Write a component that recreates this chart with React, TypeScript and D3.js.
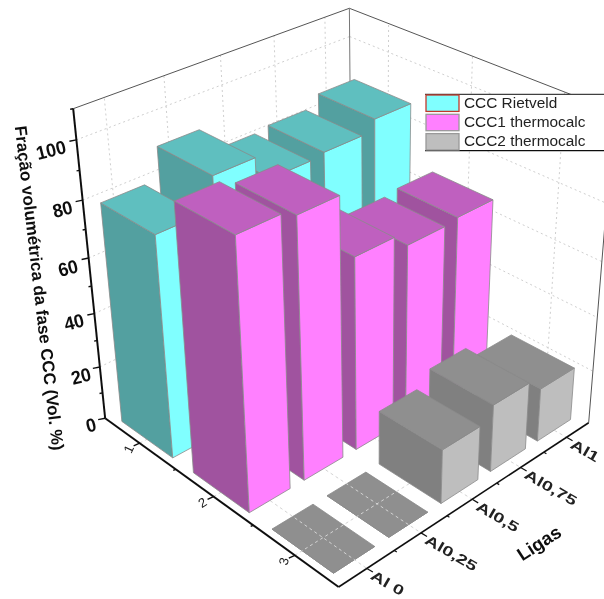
import React from "react";
import * as d3 from "d3";

const alloys = ["Al 0", "Al0,25", "Al0,5", "Al0,75", "Al1"];
const seriesNames = ["CCC Rietveld", "CCC1 thermocalc", "CCC2 thermocalc"];
const seriesTicks = ["1", "2", "3"];
const rietveld = [80, 91, 82, 83, 87];
const ccc1 = [95, 92.5, 70, 65, 66];
const ccc2 = [0, 0, 20, 25, 20];
const zTicks = [0, 20, 40, 60, 80, 100];
const seriesValues = [rietveld, ccc1, ccc2];

const frontColors = ["#80FFFF", "#FF80FF", "#BEBEBE"];
const sideColors = ["#52A0A0", "#A0529F", "#808080"];
const topColors = ["#5FBFBF", "#BF60BF", "#8F8F8F"];

// frame of the 3D box on the page: [u, v, w] -> [x, y]
const frame: [number[], number[]][] = [
  [[0, 0, 0], [105, 418]],
  [[1, 0, 0], [339, 587]],
  [[1, 1, 0], [588.5, 423]],
  [[0, 0, 1], [73, 109]],
  [[0, 1, 1], [349.7, 8.3]],
  [[1, 1, 1], [614, 111]],
];

function solve(A: number[][], b: number[]) {
  const n = b.length;
  const M = A.map((r, i) => [...r, b[i]]);
  for (let i = 0; i < n; i++) {
    let p = i;
    for (let k = i + 1; k < n; k++) if (Math.abs(M[k][i]) > Math.abs(M[p][i])) p = k;
    [M[i], M[p]] = [M[p], M[i]];
    for (let k = 0; k < n; k++) {
      if (k === i) continue;
      const f = M[k][i] / M[i][i];
      for (let j = i; j <= n; j++) M[k][j] -= f * M[i][j];
    }
  }
  return M.map((r, i) => r[n] / r[i]);
}

function fitCamera() {
  const rows: number[][] = [];
  const rhs: number[] = [];
  for (const [[a, b, c], [x, y]] of frame) {
    rows.push([a, b, c, 1, 0, 0, 0, 0, -x * a, -x * b, -x * c]);
    rhs.push(x);
    rows.push([0, 0, 0, 0, a, b, c, 1, -y * a, -y * b, -y * c]);
    rhs.push(y);
  }
  const n = 11;
  const AtA = d3.range(n).map((i) =>
    d3.range(n).map((j) => d3.sum(rows, (r) => r[i] * r[j]))
  );
  const Atb = d3.range(n).map((i) => d3.sum(rows, (r, k) => r[i] * rhs[k]));
  return solve(AtA, Atb);
}
const cam = fitCamera();
const project = (a: number, b: number, c: number): [number, number] => {
  const d = cam[8] * a + cam[9] * b + cam[10] * c + 1;
  return [
    (cam[0] * a + cam[1] * b + cam[2] * c + cam[3]) / d,
    (cam[4] * a + cam[5] * b + cam[6] * c + cam[7]) / d,
  ];
};

const uScale = d3.scaleLinear().domain([0.5, 3.5]).range([0, 1]);
const vScale = d3.scaleLinear().domain([0.5, 5.5]).range([0, 1]);
const zScale = d3.scaleLinear().domain([0, 110]).range([0, 1]);
const P = (s: number, a: number, z: number) => project(uScale(s), vScale(a), zScale(z));
const line = d3.line<[number, number]>();
const poly = (pts: [number, number][]) => line(pts) + "Z";

const halfU = 0.36;
const halfV = 0.37;

type Bar = { s: number; a: number; value: number };
const bars: Bar[] = [];
seriesValues.forEach((vals, si) =>
  vals.forEach((value, ai) => bars.push({ s: si, a: ai, value }))
);
const order = (b: Bar) => b.s * 10 - b.a;
const flat = bars.filter((b) => b.value === 0);
const tall = bars.filter((b) => b.value > 0).sort((p, q) => order(p) - order(q));

function BarFaces({ b }: { b: Bar }) {
  const u0 = b.s + 1 - halfU, u1 = b.s + 1 + halfU;
  const v0 = b.a + 1 - halfV, v1 = b.a + 1 + halfV;
  const h = b.value;
  const stroke = { stroke: "#8a8a8a", strokeWidth: 0.8, strokeLinejoin: "round" as const };
  return (
    <g>
      <path d={poly([P(u0, v0, 0), P(u1, v0, 0), P(u1, v0, h), P(u0, v0, h)])} fill={sideColors[b.s]} {...stroke} />
      <path d={poly([P(u1, v0, 0), P(u1, v1, 0), P(u1, v1, h), P(u1, v0, h)])} fill={frontColors[b.s]} {...stroke} />
      <path d={poly([P(u0, v0, h), P(u1, v0, h), P(u1, v1, h), P(u0, v1, h)])} fill={topColors[b.s]} {...stroke} />
    </g>
  );
}

const Seg = ({ a, b, ...rest }: any) => (
  <line x1={a[0]} y1={a[1]} x2={b[0]} y2={b[1]} {...rest} />
);

const gridStyle = { stroke: "#cfcfcf", strokeWidth: 1, strokeDasharray: "2 3" };
const floorGrid = { stroke: "#d4d4d4", strokeWidth: 1, strokeDasharray: "3 3" };
const sansBold = { fontFamily: "Liberation Sans, Arial, sans-serif", fontWeight: 700 };

const yLabelPos: [number, number][] = [[91, 425], [81, 376], [74, 322], [68, 268], [62.5, 209], [51, 150]];
const seriesRot = [-65, -32, -75];

export default function App() {
  const vals = [1, 2, 3, 4, 5];
  const su = [1, 2, 3];
  return (
    <svg width={604} height={599} style={{ position: "absolute", left: 0, top: 0, background: "#fff" }}>
      <defs>
        <filter id="soft" x="0" y="0" width="100%" height="100%" filterUnits="userSpaceOnUse">
          <feGaussianBlur stdDeviation="0.4" />
        </filter>
      </defs>
      <g filter="url(#soft)">
        <rect width={604} height={599} fill="#fff" />
        {/* walls grid */}
        {zTicks.slice(1).map((z) => (
          <g key={z}>
            <Seg a={P(0.5, 0.5, z)} b={P(0.5, 5.5, z)} {...gridStyle} />
            <Seg a={P(0.5, 5.5, z)} b={P(3.5, 5.5, z)} {...gridStyle} />
          </g>
        ))}
        {vals.map((a) => (
          <Seg key={a} a={P(0.5, a, 0)} b={P(0.5, a, 110)} {...gridStyle} />
        ))}
        {su.map((s) => (
          <Seg key={s} a={P(s, 5.5, 0)} b={P(s, 5.5, 110)} {...gridStyle} />
        ))}
        {/* flat bars + floor grid */}
        {flat.map((b) => <BarFaces key={`${b.s}-${b.a}`} b={b} />)}
        {vals.map((a) => (
          <Seg key={a} a={P(0.5, a, 0)} b={P(3.5, a, 0)} {...floorGrid} />
        ))}
        {su.map((s) => (
          <Seg key={s} a={P(s, 0.5, 0)} b={P(s, 5.5, 0)} {...floorGrid} />
        ))}
        {/* box */}
        <Seg a={P(0.5, 0.5, 110)} b={P(0.5, 5.5, 110)} stroke="#555" strokeWidth={1} />
        <Seg a={P(0.5, 5.5, 110)} b={P(3.5, 5.5, 110)} stroke="#555" strokeWidth={1} />
        <Seg a={P(0.5, 5.5, 0)} b={P(0.5, 5.5, 110)} stroke="#777" strokeWidth={1} />
        <Seg a={P(3.5, 5.5, 0)} b={P(3.5, 5.5, 110)} stroke="#555" strokeWidth={1} />
        {/* bars */}
        {tall.map((b) => <BarFaces key={`${b.s}-${b.a}`} b={b} />)}
        {/* axes */}
        <g stroke="#111" strokeWidth={2}>
          <Seg a={P(0.5, 0.5, 0)} b={P(0.5, 0.5, 110)} />
          <Seg a={P(0.5, 0.5, 0)} b={P(3.5, 0.5, 0)} />
          <Seg a={P(3.5, 0.5, 0)} b={P(3.5, 5.5, 0)} strokeWidth={1.6} />
          {d3.range(0, 111, 10).map((z) => {
            const p = P(0.5, 0.5, z);
            const len = z % 20 === 0 ? 7 : 3;
            return <line key={z} x1={p[0]} y1={p[1]} x2={p[0] - len} y2={p[1] + len * 0.2} strokeWidth={1.4} />;
          })}
          {d3.range(1, 3.01, 0.5).map((s) => {
            const p = P(s, 0.5, 0);
            const len = s % 1 === 0 ? 6 : 2.5;
            return <line key={s} x1={p[0]} y1={p[1]} x2={p[0] - len} y2={p[1] + len * 0.45} strokeWidth={1.4} />;
          })}
          {d3.range(1, 5.01, 0.5).map((a) => {
            const p = P(3.5, a, 0);
            const len = a % 1 === 0 ? 6 : 2.5;
            return <line key={a} x1={p[0]} y1={p[1]} x2={p[0] + len} y2={p[1] + len * 0.6} strokeWidth={1.2} />;
          })}
        </g>
        {/* labels */}
        {zTicks.map((z, i) => (
          <text key={z} transform={`translate(${yLabelPos[i][0]},${yLabelPos[i][1]}) rotate(-14) scale(0.95,1)`} textAnchor="middle" dominantBaseline="central" fontSize={19} {...sansBold} fill="#111">
            {z}
          </text>
        ))}
        {seriesTicks.map((t, i) => {
          const p = P(i + 1, 0.5, 0);
          return (
            <text key={t} transform={`translate(${p[0] - 11},${p[1] + 6}) rotate(${seriesRot[i]})`} textAnchor="middle" dominantBaseline="central" fontSize={13} fontFamily="Liberation Sans, Arial, sans-serif" fill="#222">
              {t}
            </text>
          );
        })}
        {alloys.map((t, i) => {
          const p = P(3.5, i + 1, 0);
          return (
            <text key={t} transform={`translate(${p[0] + 5},${p[1] + 6}) rotate(30) scale(1.4,1)`} fontSize={14} dominantBaseline="central" {...sansBold} fill="#222">
              {t}
            </text>
          );
        })}
        <text transform="translate(539,543) rotate(-33)" textAnchor="middle" dominantBaseline="central" fontSize={18.5} {...sansBold} fill="#111">Ligas</text>
        <text transform="translate(39,288) rotate(83.4)" textAnchor="middle" dominantBaseline="central" fontSize={17} {...sansBold} fill="#111">Fração volumétrica da fase CCC (Vol. %)</text>
        {/* legend */}
        <rect x={425} y={94} width={190} height={56.5} fill="#fff" stroke="none" />
        <line x1={425} y1={94.3} x2={604} y2={94.3} stroke="#111" strokeWidth={1} />
        <line x1={425} y1={150.6} x2={604} y2={150.6} stroke="#111" strokeWidth={1.2} />
        {seriesNames.map((name, i) => (
          <g key={name}>
            <rect x={426} y={95 + i * 19.3} width={33} height={16.4} fill={frontColors[i]} stroke={i === 0 ? "#c0392b" : "#999"} strokeWidth={1.3} />
            <text x={464} y={102 + i * 19.4} fontSize={15.4} dominantBaseline="central" fontFamily="Liberation Sans, Arial, sans-serif" fill="#222">{name}</text>
          </g>
        ))}
      </g>
    </svg>
  );
}
